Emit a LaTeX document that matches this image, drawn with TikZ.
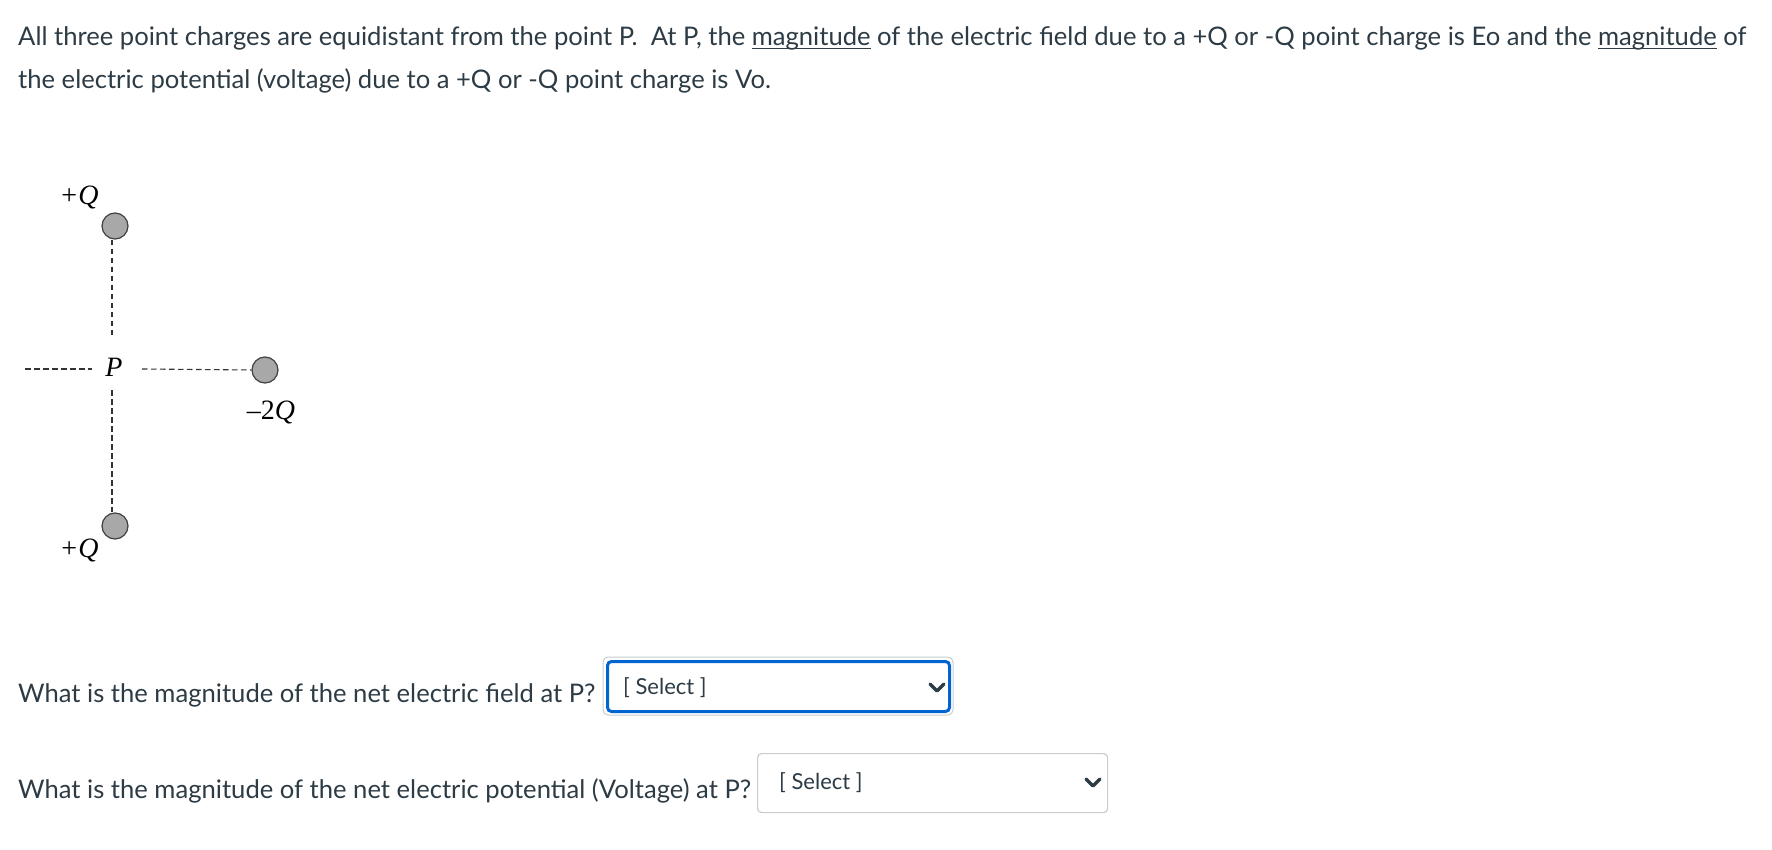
\documentclass[tikz,border=0pt]{standalone}
\usepackage{fontspec}
\setmainfont{Lato}
\newfontfamily\mathlike{Liberation Serif}
\definecolor{txt}{HTML}{2D3B45}
\definecolor{chg}{HTML}{A8A8A8}
\definecolor{focus}{HTML}{0065D0}
\definecolor{boxgray}{HTML}{C7CDD1}
\newcommand\myul[1]{\setbox0\hbox{#1}\rlap{\rule[-3.2pt]{\wd0}{1.6pt}}\box0\relax}
\tikzset{
  para/.style={anchor=base west, inner sep=0pt, text=txt, font=\fontsize{25.6}{30}\selectfont},
  charge/.style={circle, draw=black!75, fill=chg, line width=1.2pt, minimum size=26pt, inner sep=0pt},
  lbl/.style={inner sep=0pt, font=\mathlike\fontsize{28}{30}\selectfont},
  guide/.style={draw=black!80, line width=1.1pt, dash pattern=on 5.5pt off 3.5pt},
  selbox/.style={rounded corners=4pt, fill=white},
  seltext/.style={anchor=west, inner sep=0pt, text=txt, font=\fontsize{22}{26}\selectfont},
  chev/.style={draw=txt, line width=3.4pt, line cap=round, line join=round}
}
\begin{document}
\begin{tikzpicture}[x=1pt,y=-1pt]
\useasboundingbox (0,0) rectangle (1772,850);
% paragraph
\node[para] (l1) at (18,46) {All three point charges are equidistant from the point P.\ \ At P, the \myul{magnitude} of the electric field due to a +Q or -Q point charge is Eo and the \myul{magnitude} of};
\node[para] (l2) at (18,89) {the electric potential (voltage) due to a +Q or -Q point charge is Vo.};
% diagram
\node[charge] (qt) at (115,226) {};
\node[charge] (qb) at (115,526) {};
\node[charge] (qr) at (265,370) {};
\node[lbl] (P) at (114,367) {\itshape P};
\node[lbl] (lt) at (80,198) {+\kern1pt\itshape Q};
\node[lbl] (lb) at (80,550) {+\kern1pt\itshape Q};
\node[lbl] (lr) at (271,412) {–2\itshape Q};
\coordinate (w1) at (25,369);
\coordinate (w2) at (92,369);
\coordinate (v1) at (112,335);
\coordinate (v2) at (112,390);
\coordinate (h1) at (142,369);
\draw[guide] (qt.south -| v1) -- (v1);
\draw[guide] (v2) -- (qb.north -| v2);
\draw[guide] (w1) -- (w2);
\draw[guide] (h1) -- (qr.west);
% question 1
\node[para] (q1) at (18,702) {What is the magnitude of the net electric field at P?};
\draw[boxgray, line width=1pt, rounded corners=5pt] (603,657) rectangle (953,715);
\node[selbox, draw=focus, line width=3pt, minimum width=342pt, minimum height=50pt, anchor=north west] (s1) at (606,660) {};
\node[seltext] (s1t) at (623,688) {[ Select ]};
\coordinate (c1) at (937,688);
\draw[chev] ([shift={(-7,-4)}]c1) -- ([shift={(0,3)}]c1) -- ([shift={(7,-4)}]c1);
% question 2
\node[para] (q2) at (18,798) {What is the magnitude of the net electric potential (Voltage) at P?};
\node[selbox, draw=boxgray, line width=1.2pt, minimum width=350pt, minimum height=59pt, anchor=north west] (s2) at (757,753) {};
\node[seltext] (s2t) at (779,783) {[ Select ]};
\coordinate (c2) at (1093,783);
\draw[chev] ([shift={(-7,-4)}]c2) -- ([shift={(0,3)}]c2) -- ([shift={(7,-4)}]c2);
\end{tikzpicture}
\end{document}
